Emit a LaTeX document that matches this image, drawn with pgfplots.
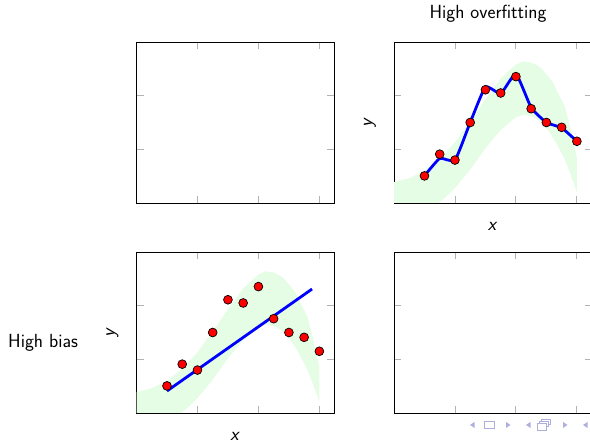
\documentclass[border=0pt]{standalone}
\usepackage{pgfplots}
\pgfplotsset{compat=1.18}

\definecolor{bandgreen}{RGB}{229,252,229}
\definecolor{navc}{RGB}{175,175,222}

% one panel of the 2x2 grid, sizes in px of the reference (1px = 1pt)
\pgfplotsset{
  panel/.style={
    scale only axis, width=197.5pt, height=161pt, anchor=south west,
    xmin=0, xmax=3.24, ymin=0, ymax=3,
    xtick={1,2,3}, ytick={1,2},
    xticklabels={}, yticklabels={},
    major tick length=7pt,
    tick style={gray!60, line width=0.9pt},
    axis line style={line width=0.8pt},
    xlabel style={at={(axis description cs:0.5,0)}, anchor=center,
      inner sep=1pt, yshift=-23pt},
    ylabel style={at={(axis description cs:0,0.5)}, anchor=center,
      inner sep=1pt, yshift=24pt},
  },
  band/.style={fill=bandgreen, draw=none},
  fit/.style={blue, line width=2.8pt},
  pts/.style={only marks, mark=*, mark size=4.4pt,
    mark options={fill=red, draw=black, line width=0.7pt}},
}

% true function band: upper edge left to right, lower edge right to left
\pgfplotstableread{
x y
0 0.39
0.25 0.46
0.5 0.60
0.75 0.82
1.0 1.13
1.25 1.52
1.5 1.93
1.75 2.32
2.0 2.58
2.12 2.64
2.25 2.62
2.4 2.53
2.6 2.26
2.8 1.80
2.89 1.42
2.95 1.10
3.0 0.85
3.0 0.20
2.95 0.37
2.89 0.55
2.8 0.82
2.67 1.10
2.55 1.32
2.4 1.52
2.25 1.62
2.12 1.64
2.0 1.60
1.75 1.36
1.5 1.02
1.25 0.62
1.0 0.28
0.86 0.12
0.73 0.0
0.5 -0.30
0.25 -0.50
0 -0.60
}\bandtab

\pgfplotstableread{
x y
0.5 0.505
0.75 0.91
1.0 0.80
1.25 1.50
1.5 2.11
1.75 2.05
2.0 2.355
2.25 1.757
2.5 1.50
2.75 1.41
3.0 1.15
}\samples

\begin{document}
\begin{tikzpicture}[font=\fontsize{19}{23}\selectfont\sffamily]

% top left: empty
\begin{axis}[panel, at={(136.5pt,238pt)}]
\end{axis}

% top right: high overfitting
\begin{axis}[panel, at={(394pt,238pt)},
  xlabel={\textit{x}}, ylabel={\textit{y}}]
\addplot[band] table {\bandtab} -- cycle;
\addplot[fit, smooth, tension=0.3] coordinates {
  (0.5,0.505) (0.75,0.83) (1.0,0.80) (1.25,1.50) (1.5,2.16)
  (1.75,2.04) (2.0,2.40) (2.25,1.78) (2.5,1.50) (2.75,1.40) (3.0,1.15)
};
\addplot[pts] table {\samples};
\end{axis}

% bottom left: high bias
\begin{axis}[panel, at={(136.5pt,28pt)},
  xlabel={\textit{x}}, ylabel={\textit{y}}]
\addplot[band] table {\bandtab} -- cycle;
\addplot[fit] coordinates {(0.5,0.41) (2.88,2.31)};
\addplot[pts] table {\samples};
\end{axis}

% bottom right: empty
\begin{axis}[panel, at={(394pt,28pt)}]
\end{axis}

\node[anchor=base] at (488pt,422pt) {High overfitting};
\node[anchor=base west, inner sep=0pt] at (8pt,93pt) {High bias};

% beamer navigation symbols
\begin{scope}[navc]
  \fill (474.5pt,19pt) -- (470pt,16pt) -- (474.5pt,13pt) -- cycle;
  \draw[line width=0.9pt] (484pt,13pt) rectangle (494pt,19.5pt);
  \fill (506pt,19pt) -- (510.5pt,16pt) -- (506pt,13pt) -- cycle;
  \fill (530.5pt,19pt) -- (526pt,16pt) -- (530.5pt,13pt) -- cycle;
  \draw[line width=0.9pt, fill=white] (541pt,17pt) rectangle (550pt,22pt);
  \draw[line width=0.9pt, fill=white] (539pt,15pt) rectangle (548pt,20pt);
  \draw[line width=0.9pt, fill=white] (537pt,11pt) rectangle (546pt,18pt);
  \fill (563pt,19pt) -- (567.5pt,16pt) -- (563pt,13pt) -- cycle;
  \fill (587.5pt,19pt) -- (583pt,16pt) -- (587.5pt,13pt) -- cycle;
\end{scope}

\pgfresetboundingbox
\useasboundingbox (0,0) rectangle (590pt,441pt);
\end{tikzpicture}
\end{document}
